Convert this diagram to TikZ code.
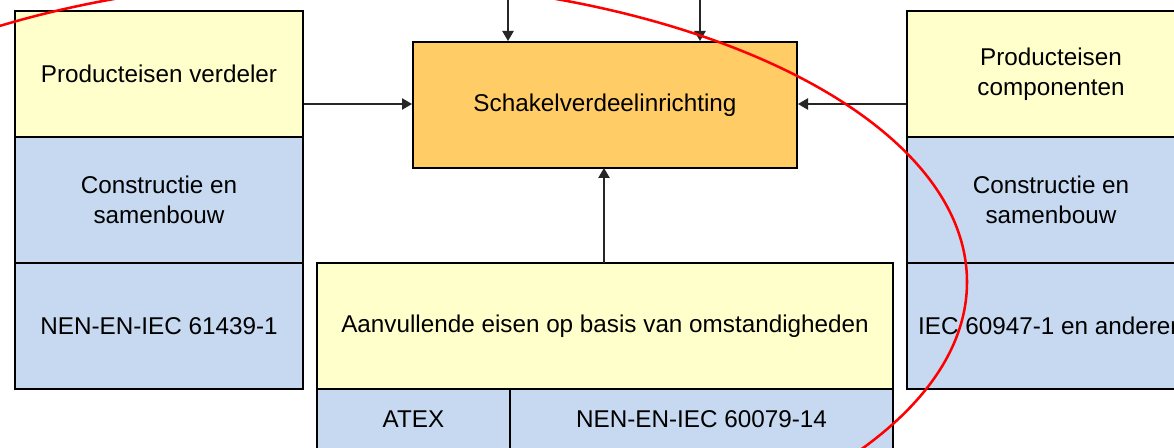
\documentclass[tikz,border=0pt]{standalone}
\usepackage{fontspec}
\setmainfont{Liberation Sans}
\usetikzlibrary{arrows.meta}
\definecolor{reqyellow}{HTML}{FFFFCC}
\definecolor{reqblue}{HTML}{C6D9F1}
\definecolor{reqorange}{HTML}{FFCC66}
\tikzset{
  cell/.style={draw=black, line width=1.5pt, inner sep=0pt, align=center,
    font=\fontsize{18.2}{22.5}\selectfont, text=black},
  ycell/.style={cell, fill=reqyellow},
  bcell/.style={cell, fill=reqblue},
  ocell/.style={cell, fill=reqorange},
  flow/.style={draw=black!85, line width=1pt, -{Triangle[length=7.5pt,width=8.5pt]}},
  mark ellipse/.style={draw=red, line width=1.9pt}
}
\begin{document}
\begin{tikzpicture}[x=0.75pt,y=-0.75pt]
\useasboundingbox (0,0) rectangle (1174,448);
\clip (0,0) rectangle (1174,448);
\fill[white] (0,0) rectangle (1174,448);
% left column
\node[ycell, minimum width=216pt, minimum height=94.5pt] (lp) at (159,74) {Producteisen verdeler};
\node[bcell, minimum width=216pt, minimum height=94.5pt] (lc) at (159,200) {Constructie en\\samenbouw};
\node[bcell, minimum width=216pt, minimum height=94.5pt] (ln) at (159,326) {NEN-EN-IEC 61439-1};
% right column
\node[ycell, minimum width=216pt, minimum height=94.5pt] (rp) at (1051,74) {Producteisen\\componenten};
\node[bcell, minimum width=216pt, minimum height=94.5pt] (rc) at (1051,200) {Constructie en\\samenbouw};
\node[bcell, minimum width=216pt, minimum height=94.5pt] (rn) at (1051,326) {IEC 60947-1 en anderen};
% centre
\node[ocell, minimum width=288pt, minimum height=94.5pt] (sv) at (605,105) {Schakelverdeelinrichting};
% bottom
\node[ycell, minimum width=432pt, minimum height=94.5pt] (ae) at (605,326) {Aanvullende eisen op basis van omstandigheden};
\node[bcell, minimum width=144.75pt, minimum height=45.75pt] (atex) at (413.5,419.5) {ATEX};
\node[bcell, minimum width=287.25pt, minimum height=45.75pt] (nen) at (701.5,419.5) {NEN-EN-IEC 60079-14};
% connectors
\coordinate (t1) at (508,-20);
\coordinate (t2) at (700,-20);
\draw[flow] (t1) -- (t1 |- sv.north);
\draw[flow] (t2) -- (t2 |- sv.north);
\draw[flow] (lp.east |- 0,104) -- (sv.west |- 0,104);
\draw[flow] (rp.west |- 0,104) -- (sv.east |- 0,104);
\draw[flow] (604,263) -- (604,168);
% red marking ellipse
\draw[mark ellipse] (335,282) ellipse [x radius=474pt, y radius=226.5pt];
\end{tikzpicture}
\end{document}
